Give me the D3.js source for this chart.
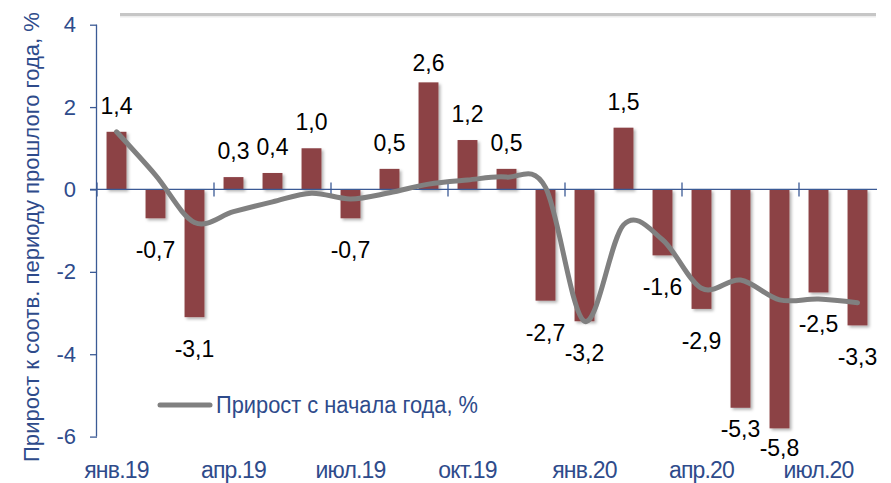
<!DOCTYPE html>
<html><head><meta charset="utf-8">
<script src="https://cdn.jsdelivr.net/npm/d3@7"></script>
<style>
html,body{margin:0;padding:0;background:#fff;}
svg{display:block;font-family:Arial,"Liberation Sans",sans-serif;}
</style></head>
<body>
<svg id="chart" width="891" height="483"></svg>
<script>
const months = ["янв.19","фев.19","мар.19","апр.19","май.19","июн.19","июл.19","авг.19","сен.19","окт.19","ноя.19","дек.19","янв.20","фев.20","мар.20","апр.20","май.20","июн.20","июл.20","авг.20"];
const xTickLabels = ["янв.19","апр.19","июл.19","окт.19","янв.20","апр.20","июл.20"];
const yoyValues = [1.4,-0.7,-3.1,0.3,0.4,1.0,-0.7,0.5,2.6,1.2,0.5,-2.7,-3.2,1.5,-1.6,-2.9,-5.3,-5.8,-2.5,-3.3];
const ytdValues = [1.4,0.35,-0.8,-0.54,-0.3,-0.09,-0.23,-0.08,0.13,0.23,0.3,0.05,-3.2,-0.86,-1.22,-2.4,-2.2,-2.68,-2.66,-2.75];
const yTicks = [-6,-4,-2,0,2,4];
const yTitle = "Прирост к соотв. периоду прошлого года, %";
const legendLabel = "Прирост с начала года, %";

const blue = "#2E4B8B", axisCol = "#3B5A95", barCol = "#8C4245", lineCol = "#808080";
const svg = d3.select("#chart");
const left = 97, right = 877;
const x = d3.scaleBand().domain(months).range([left, right]).paddingInner(0.49).paddingOuter(0.245);
const step = x.step();
const y = d3.scaleLinear().domain([-6, 4]).range([436.6, 24.7]);
const cx = m => x(m) + x.bandwidth() / 2;
const fmt = v => d3.format(".1f")(v).replace(".", ",").replace("\u2212", "-");

const defs = svg.append("defs");
const f = defs.append("filter").attr("id","sh").attr("x","-30%").attr("y","-30%").attr("width","160%").attr("height","160%");
f.append("feDropShadow").attr("dx",2).attr("dy",2).attr("stdDeviation",1.6).attr("flood-color","#000").attr("flood-opacity",0.3);

// top decorative rule
svg.append("rect").attr("x",120).attr("y",13).attr("width",756).attr("height",3).attr("fill","#c6c6c6");
svg.append("rect").attr("x",120).attr("y",16).attr("width",756).attr("height",1.5).attr("fill","#ececec");

// y axis title
svg.append("text").attr("transform","translate(39,462) rotate(-90)")
  .attr("font-size",22).attr("fill",blue)
  .attr("textLength",450).attr("lengthAdjust","spacingAndGlyphs")
  .text(yTitle);

// y axis
const yAxis = svg.append("g").attr("transform",`translate(${left},0)`)
  .call(d3.axisLeft(y).tickValues(yTicks).tickSize(7).tickPadding(14).tickFormat(d => String(d)));
yAxis.select(".domain").attr("stroke",axisCol).attr("stroke-width",1.3).attr("d",`M-0.5,${y(4)}V${y(-6)}`);
yAxis.selectAll(".tick line").attr("stroke",axisCol).attr("stroke-width",1.3);
yAxis.selectAll(".tick text").attr("fill",blue).attr("font-size",22).attr("font-family","Arial,'Liberation Sans',sans-serif");

// bars
svg.append("g").selectAll("rect").data(yoyValues).join("rect")
  .attr("x",(d,i)=>x(months[i]))
  .attr("width",x.bandwidth())
  .attr("y",d=>y(Math.max(0,d)))
  .attr("height",d=>Math.abs(y(d)-y(0)))
  .attr("fill",barCol)
  .attr("filter","url(#sh)");

// x axis at zero
const xg = svg.append("g");
xg.append("line").attr("x1",left-7).attr("x2",right).attr("y1",y(0)).attr("y2",y(0)).attr("stroke",axisCol).attr("stroke-width",1.3);
const tickIdx = d3.range(0, months.length, 3);
xg.selectAll("line.t").data(tickIdx).join("line").attr("class","t")
  .attr("x1",i=>left + i*step).attr("x2",i=>left + i*step)
  .attr("y1",y(0)-7).attr("y2",y(0)+7).attr("stroke",axisCol).attr("stroke-width",1.3);

// x labels
svg.append("g").selectAll("text").data(xTickLabels).join("text")
  .attr("x",d=>cx(d))
  .attr("y",478).attr("text-anchor","middle")
  .attr("font-size",23).attr("fill",blue).attr("letter-spacing",-0.8)
  .text(d=>d);

// cumulative line
const line = d3.line().x((d,i)=>cx(months[i])).y(d=>y(d)).curve(d3.curveCardinal.tension(0));
svg.append("path").datum(ytdValues).attr("d",line)
  .attr("fill","none").attr("stroke",lineCol).attr("stroke-width",5).attr("stroke-linecap","round").attr("stroke-linejoin","round");

// data labels
const labelNudge = {8: 7, 16: -11, 17: -12};
svg.append("g").selectAll("text").data(yoyValues).join("text")
  .attr("x",(d,i)=>cx(months[i]))
  .attr("y",(d,i)=>(d>=0 ? y(d)-18 : y(d)+40) + (labelNudge[i]||0))
  .attr("text-anchor","middle").attr("font-size",23).attr("fill","#000")
  .text(d=>fmt(d));

// legend
svg.append("line").attr("x1",160).attr("x2",210).attr("y1",405).attr("y2",405)
  .attr("stroke",lineCol).attr("stroke-width",5).attr("stroke-linecap","round");
svg.append("text").attr("x",216).attr("y",413).attr("font-size",23).attr("fill",blue)
  .attr("textLength",262).attr("lengthAdjust","spacingAndGlyphs").text(legendLabel);
</script>
</body></html>
